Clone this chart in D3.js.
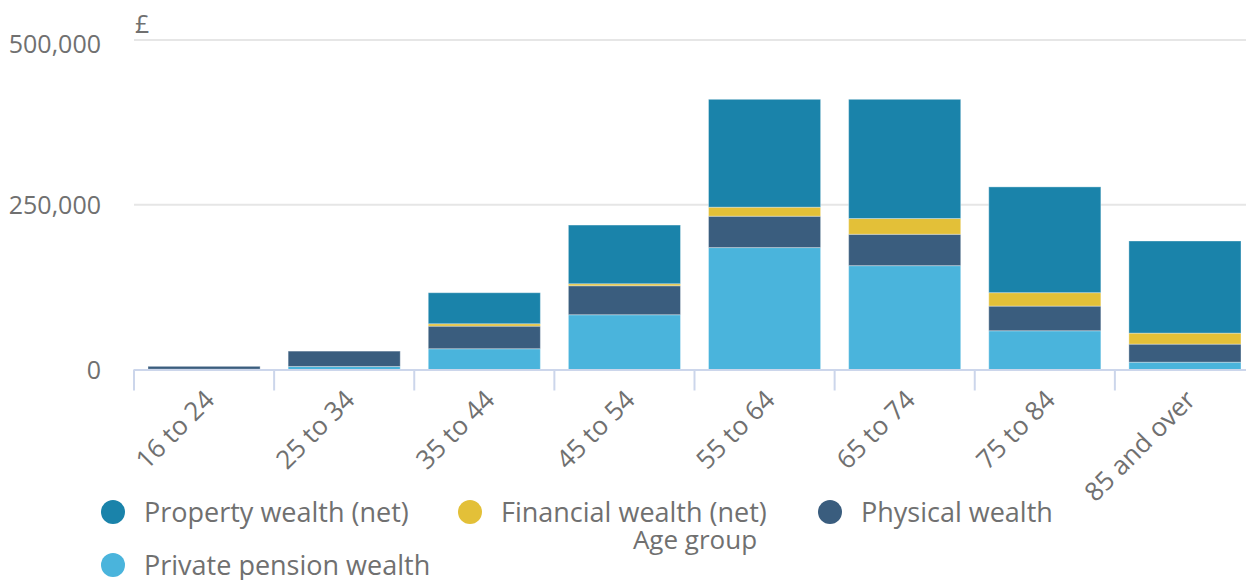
<!DOCTYPE html>
<html>
<head>
<meta charset="utf-8">
<script src="https://cdn.jsdelivr.net/npm/d3@7"></script>
<style>
  body { margin: 0; background: #fff; }
  text { font-family: "Open Sans", sans-serif; fill: #707070; }
</style>
</head>
<body>
<script>
const ageGroups = ['16 to 24', '25 to 34', '35 to 44', '45 to 54', '55 to 64', '65 to 74', '75 to 84', '85 and over'];
const pension   = [500, 4600, 31500, 83100, 185000, 157600, 58800, 11100];
const physical  = [4300, 23300, 34300, 44000, 47600, 47600, 37400, 27400];
const financial = [0, 0, 3600, 3000, 13700, 23900, 20400, 16700];
const property  = [0, 0, 47100, 89100, 163700, 180900, 160500, 139800];
const yTicks = [0, 250000, 500000];

const seriesNames = ['Property wealth (net)', 'Financial wealth (net)', 'Physical wealth', 'Private pension wealth'];
const colors = {
  'Property wealth (net)': '#1a83aa',
  'Financial wealth (net)': '#e3c038',
  'Physical wealth': '#3a5d7e',
  'Private pension wealth': '#4ab4dc'
};

const width = 1246, height = 580;
const margin = { top: 40, left: 134, bottom: 369.5 };

const rows = ageGroups.map((g, i) => ({
  group: g,
  'Private pension wealth': pension[i],
  'Physical wealth': physical[i],
  'Financial wealth (net)': financial[i],
  'Property wealth (net)': property[i]
}));

// bottom to top
const stackKeys = ['Private pension wealth', 'Physical wealth', 'Financial wealth (net)', 'Property wealth (net)'];
const stacked = d3.stack().keys(stackKeys)(rows);

const svg = d3.select('body').append('svg')
  .attr('width', width)
  .attr('height', height);

const x = d3.scaleBand()
  .domain(ageGroups)
  .range([margin.left, 1255])
  .paddingInner(0.2)
  .paddingOuter(0.1);

const y = d3.scaleLinear()
  .domain([0, 500000])
  .range([margin.bottom, margin.top]);

// gridlines
svg.append('g')
  .selectAll('line')
  .data(yTicks.filter(t => t > 0))
  .join('line')
  .attr('x1', margin.left)
  .attr('x2', width)
  .attr('y1', d => y(d))
  .attr('y2', d => y(d))
  .attr('stroke', '#e6e6e6')
  .attr('stroke-width', 2);

// y labels (top one sits a little lower, as in the original)
svg.append('g')
  .selectAll('text')
  .data(yTicks)
  .join('text')
  .attr('x', 101)
  .attr('y', d => Math.max(y(d) + 9.5, 53))
  .attr('text-anchor', 'end')
  .attr('font-size', 25)
  .text(d => d3.format(',')(d));

svg.append('text')
  .attr('x', 135)
  .attr('y', 33)
  .attr('font-size', 25)
  .text('£');

// bars
svg.append('g')
  .selectAll('g')
  .data(stacked)
  .join('g')
  .attr('fill', d => colors[d.key])
  .selectAll('rect')
  .data(d => d)
  .join('rect')
  .attr('x', d => x(d.data.group))
  .attr('width', x.bandwidth())
  .attr('y', d => y(d[1]))
  .attr('height', d => y(d[0]) - y(d[1]))
  .attr('stroke', 'rgba(255,255,255,0.35)')
  .attr('stroke-width', 1);

// x axis line and ticks
const step = x.step();
const axisG = svg.append('g');
axisG.append('line')
  .attr('x1', margin.left)
  .attr('x2', width)
  .attr('y1', margin.bottom + 0.5)
  .attr('y2', margin.bottom + 0.5)
  .attr('stroke', '#ccd6eb')
  .attr('stroke-width', 2);
axisG.selectAll('line.tick')
  .data(ageGroups)
  .join('line')
  .attr('class', 'tick')
  .attr('x1', d => x(d) - step * 0.1)
  .attr('x2', d => x(d) - step * 0.1)
  .attr('y1', margin.bottom)
  .attr('y2', margin.bottom + 21)
  .attr('stroke', '#ccd6eb')
  .attr('stroke-width', 2);

axisG.selectAll('text')
  .data(ageGroups)
  .join('text')
  .attr('text-anchor', 'end')
  .attr('font-size', 26)
  .attr('transform', d => `translate(${x(d) + x.bandwidth() / 2 + 12},${margin.bottom + 32}) rotate(-45)`)
  .text(d => d);

svg.append('text')
  .attr('x', 695)
  .attr('y', 549)
  .attr('text-anchor', 'middle')
  .attr('font-size', 26)
  .text('Age group');

// legend
const legendPos = [
  { cx: 113, cy: 512 },
  { cx: 470, cy: 512 },
  { cx: 830, cy: 512 },
  { cx: 113, cy: 565 }
];
const legend = svg.append('g')
  .selectAll('g')
  .data(seriesNames)
  .join('g')
  .attr('transform', (d, i) => `translate(${legendPos[i].cx},${legendPos[i].cy})`);
legend.append('circle')
  .attr('r', 12)
  .attr('fill', d => colors[d]);
legend.append('text')
  .attr('x', 31)
  .attr('y', 10)
  .attr('font-size', 27)
  .text(d => d);
</script>
</body>
</html>
